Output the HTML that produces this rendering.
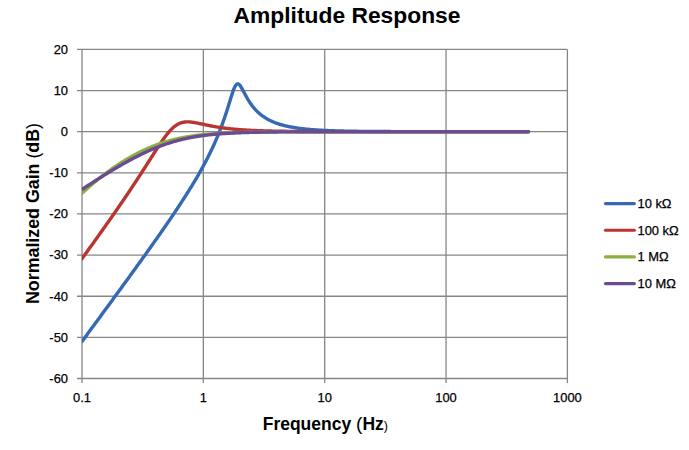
<!DOCTYPE html>
<html><head><meta charset="utf-8"><style>
html,body{margin:0;padding:0;background:#fff;width:689px;height:450px;overflow:hidden}
svg{display:block}
text{font-family:"Liberation Sans",sans-serif;fill:#000}
</style></head><body>
<svg width="689" height="450" viewBox="0 0 689 450">
<defs><clipPath id="pa"><rect x="82.00" y="0" width="1000.00" height="450"/></clipPath></defs>
<g stroke="#868686" stroke-width="1.3" fill="none">
<line x1="77" y1="49.40" x2="567.40" y2="49.40"/>
<line x1="77" y1="90.54" x2="567.40" y2="90.54"/>
<line x1="77" y1="131.68" x2="567.40" y2="131.68"/>
<line x1="77" y1="172.81" x2="567.40" y2="172.81"/>
<line x1="77" y1="213.95" x2="567.40" y2="213.95"/>
<line x1="77" y1="255.09" x2="567.40" y2="255.09"/>
<line x1="77" y1="296.23" x2="567.40" y2="296.23"/>
<line x1="77" y1="337.36" x2="567.40" y2="337.36"/>
<line x1="77" y1="378.50" x2="567.40" y2="378.50"/>
<line x1="82.00" y1="49.40" x2="82.00" y2="383"/>
<line x1="203.35" y1="49.40" x2="203.35" y2="383"/>
<line x1="324.70" y1="49.40" x2="324.70" y2="383"/>
<line x1="446.05" y1="49.40" x2="446.05" y2="383"/>
<line x1="567.40" y1="49.40" x2="567.40" y2="383"/>
</g>
<g font-size="12.9" stroke="#000" stroke-width="0.25">
<text x="68" y="53.70" text-anchor="end">20</text>
<text x="68" y="94.84" text-anchor="end">10</text>
<text x="68" y="135.98" text-anchor="end">0</text>
<text x="68" y="177.11" text-anchor="end">-10</text>
<text x="68" y="218.25" text-anchor="end">-20</text>
<text x="68" y="259.39" text-anchor="end">-30</text>
<text x="68" y="300.53" text-anchor="end">-40</text>
<text x="68" y="341.66" text-anchor="end">-50</text>
<text x="68" y="382.80" text-anchor="end">-60</text>
<text x="82.00" y="401.5" text-anchor="middle">0.1</text>
<text x="203.35" y="401.5" text-anchor="middle">1</text>
<text x="324.70" y="401.5" text-anchor="middle">10</text>
<text x="446.05" y="401.5" text-anchor="middle">100</text>
<text x="567.40" y="401.5" text-anchor="middle">1000</text>
</g>
<g clip-path="url(#pa)" fill="none" stroke-width="3.4" stroke-linejoin="round" stroke-linecap="round">
<path d="M82.00 341.47 L82.74 340.46 L83.49 339.44 L84.23 338.43 L84.98 337.42 L85.72 336.41 L86.47 335.40 L87.21 334.38 L87.95 333.37 L88.70 332.36 L89.44 331.35 L90.19 330.33 L90.93 329.32 L91.67 328.31 L92.42 327.29 L93.16 326.28 L93.91 325.27 L94.65 324.25 L95.40 323.24 L96.14 322.23 L96.88 321.21 L97.63 320.20 L98.37 319.18 L99.12 318.17 L99.86 317.16 L100.60 316.14 L101.35 315.13 L102.09 314.11 L102.84 313.10 L103.58 312.08 L104.33 311.07 L105.07 310.05 L105.81 309.03 L106.56 308.02 L107.30 307.00 L108.05 305.99 L108.79 304.97 L109.53 303.95 L110.28 302.94 L111.02 301.92 L111.77 300.90 L112.51 299.88 L113.25 298.87 L114.00 297.85 L114.74 296.83 L115.49 295.81 L116.23 294.79 L116.98 293.77 L117.72 292.75 L118.46 291.73 L119.21 290.71 L119.95 289.69 L120.70 288.67 L121.44 287.65 L122.19 286.63 L122.93 285.60 L123.67 284.58 L124.42 283.56 L125.16 282.54 L125.91 281.51 L126.65 280.49 L127.39 279.46 L128.14 278.44 L128.88 277.41 L129.63 276.39 L130.37 275.36 L131.12 274.34 L131.86 273.31 L132.60 272.28 L133.35 271.25 L134.09 270.22 L134.84 269.19 L135.58 268.16 L136.32 267.13 L137.07 266.10 L137.81 265.07 L138.56 264.04 L139.30 263.00 L140.05 261.97 L140.79 260.93 L141.53 259.90 L142.28 258.86 L143.02 257.83 L143.77 256.79 L144.51 255.75 L145.25 254.71 L146.00 253.67 L146.74 252.63 L147.49 251.58 L148.23 250.54 L148.97 249.50 L149.72 248.45 L150.46 247.40 L151.21 246.36 L151.95 245.31 L152.70 244.26 L153.44 243.21 L154.18 242.15 L154.93 241.10 L155.67 240.04 L156.42 238.99 L157.16 237.93 L157.91 236.87 L158.65 235.81 L159.39 234.75 L160.14 233.68 L160.88 232.62 L161.63 231.55 L162.37 230.48 L163.11 229.41 L163.86 228.34 L164.60 227.26 L165.35 226.19 L166.09 225.11 L166.83 224.03 L167.58 222.94 L168.32 221.86 L169.07 220.77 L169.81 219.68 L170.56 218.59 L171.30 217.49 L172.04 216.39 L172.79 215.29 L173.53 214.19 L174.28 213.08 L175.02 211.97 L175.76 210.86 L176.51 209.74 L177.25 208.62 L178.00 207.50 L178.74 206.37 L179.49 205.24 L180.23 204.11 L180.97 202.97 L181.72 201.83 L182.46 200.68 L183.21 199.53 L183.95 198.38 L184.69 197.22 L185.44 196.05 L186.18 194.88 L186.93 193.71 L187.67 192.52 L188.42 191.34 L189.16 190.14 L189.90 188.95 L190.65 187.74 L191.39 186.53 L192.14 185.31 L192.88 184.08 L193.62 182.85 L194.37 181.61 L195.11 180.36 L195.86 179.10 L196.60 177.84 L197.35 176.56 L198.09 175.28 L198.83 173.98 L199.58 172.68 L200.32 171.36 L201.07 170.03 L201.81 168.70 L202.56 167.35 L203.30 165.98 L204.04 164.61 L204.79 163.22 L205.53 161.81 L206.28 160.39 L207.02 158.95 L207.76 157.50 L208.51 156.03 L209.25 154.54 L210.00 153.03 L210.74 151.51 L211.49 149.96 L212.23 148.38 L212.97 146.79 L213.72 145.17 L214.46 143.52 L215.21 141.85 L215.95 140.14 L216.69 138.41 L217.44 136.65 L218.18 134.85 L218.93 133.01 L219.67 131.14 L220.41 129.23 L221.16 127.28 L221.90 125.29 L222.65 123.25 L223.39 121.17 L224.14 119.04 L224.88 116.86 L225.62 114.63 L226.37 112.36 L227.11 110.04 L227.86 107.68 L228.60 105.28 L229.35 102.86 L230.09 100.43 L230.83 98.02 L231.58 95.64 L232.32 93.35 L233.07 91.17 L233.81 89.18 L234.55 87.43 L235.30 85.97 L236.04 84.87 L236.79 84.17 L237.53 83.86 L238.28 83.95 L239.02 84.40 L239.76 85.14 L240.51 86.13 L241.25 87.29 L242.00 88.58 L242.74 89.94 L243.48 91.35 L244.23 92.77 L244.97 94.18 L245.72 95.56 L246.46 96.92 L247.21 98.23 L247.95 99.49 L248.69 100.71 L249.44 101.88 L250.18 103.00 L250.93 104.08 L251.67 105.11 L252.41 106.09 L253.16 107.03 L253.90 107.93 L254.65 108.79 L255.39 109.62 L256.13 110.41 L256.88 111.17 L257.62 111.89 L258.37 112.58 L259.11 113.25 L259.86 113.88 L260.60 114.50 L261.34 115.08 L262.09 115.65 L262.83 116.19 L263.58 116.71 L264.32 117.20 L265.07 117.68 L265.81 118.15 L266.55 118.59 L267.30 119.02 L268.04 119.43 L268.79 119.82 L269.53 120.21 L270.27 120.57 L271.02 120.93 L271.76 121.27 L272.51 121.60 L273.25 121.92 L274.00 122.22 L274.74 122.52 L275.48 122.80 L276.23 123.08 L276.97 123.34 L277.72 123.60 L278.46 123.85 L279.20 124.09 L279.95 124.32 L280.69 124.55 L281.44 124.76 L282.18 124.97 L282.93 125.18 L283.67 125.37 L284.41 125.56 L285.16 125.75 L285.90 125.92 L286.65 126.10 L287.39 126.26 L288.13 126.42 L288.88 126.58 L289.62 126.73 L290.37 126.88 L291.11 127.02 L291.86 127.16 L292.60 127.29 L293.34 127.42 L294.09 127.54 L294.83 127.66 L295.58 127.78 L296.32 127.90 L297.06 128.01 L297.81 128.11 L298.55 128.22 L299.30 128.32 L300.04 128.42 L300.78 128.51 L301.53 128.60 L302.27 128.69 L303.02 128.78 L303.76 128.86 L304.51 128.94 L305.25 129.02 L305.99 129.10 L306.74 129.17 L307.48 129.24 L308.23 129.31 L308.97 129.38 L309.72 129.45 L310.46 129.51 L311.20 129.57 L311.95 129.63 L312.69 129.69 L313.44 129.75 L314.18 129.80 L314.92 129.86 L315.67 129.91 L316.41 129.96 L317.16 130.01 L317.90 130.05 L318.64 130.10 L319.39 130.14 L320.13 130.19 L320.88 130.23 L321.62 130.27 L322.37 130.31 L323.11 130.35 L323.85 130.39 L324.60 130.42 L325.34 130.46 L326.09 130.49 L326.83 130.53 L327.57 130.56 L328.32 130.59 L329.06 130.62 L329.81 130.65 L330.55 130.68 L331.30 130.71 L332.04 130.74 L332.78 130.76 L333.53 130.79 L334.27 130.81 L335.02 130.84 L335.76 130.86 L336.50 130.88 L337.25 130.91 L337.99 130.93 L338.74 130.95 L339.48 130.97 L340.23 130.99 L340.97 131.01 L341.71 131.03 L342.46 131.04 L343.20 131.06 L343.95 131.08 L344.69 131.10 L345.44 131.11 L346.18 131.13 L346.92 131.14 L347.67 131.16 L348.41 131.17 L349.16 131.19 L349.90 131.20 L350.64 131.21 L351.39 131.23 L352.13 131.24 L352.88 131.25 L353.62 131.26 L354.37 131.28 L355.11 131.29 L355.85 131.30 L356.60 131.31 L357.34 131.32 L358.09 131.33 L358.83 131.34 L359.57 131.35 L360.32 131.36 L361.06 131.37 L361.81 131.37 L362.55 131.38 L363.30 131.39 L364.04 131.40 L364.78 131.41 L365.53 131.41 L366.27 131.42 L367.02 131.43 L367.76 131.43 L368.50 131.44 L369.25 131.45 L369.99 131.45 L370.74 131.46 L371.48 131.47 L372.23 131.47 L372.97 131.48 L373.71 131.48 L374.46 131.49 L375.20 131.49 L375.95 131.50 L376.69 131.50 L377.43 131.51 L378.18 131.51 L378.92 131.52 L379.67 131.52 L380.41 131.53 L381.15 131.53 L381.90 131.53 L382.64 131.54 L383.39 131.54 L384.13 131.55 L384.88 131.55 L385.62 131.55 L386.36 131.56 L387.11 131.56 L387.85 131.56 L388.60 131.57 L389.34 131.57 L390.09 131.57 L390.83 131.58 L391.57 131.58 L392.32 131.58 L393.06 131.58 L393.81 131.59 L394.55 131.59 L395.29 131.59 L396.04 131.59 L396.78 131.60 L397.53 131.60 L398.27 131.60 L399.01 131.60 L399.76 131.60 L400.50 131.61 L401.25 131.61 L401.99 131.61 L402.74 131.61 L403.48 131.61 L404.22 131.61 L404.97 131.62 L405.71 131.62 L406.46 131.62 L407.20 131.62 L407.94 131.62 L408.69 131.62 L409.43 131.63 L410.18 131.63 L410.92 131.63 L411.67 131.63 L412.41 131.63 L413.15 131.63 L413.90 131.63 L414.64 131.63 L415.39 131.64 L416.13 131.64 L416.88 131.64 L417.62 131.64 L418.36 131.64 L419.11 131.64 L419.85 131.64 L420.60 131.64 L421.34 131.64 L422.08 131.64 L422.83 131.65 L423.57 131.65 L424.32 131.65 L425.06 131.65 L425.81 131.65 L426.55 131.65 L427.29 131.65 L428.04 131.65 L428.78 131.65 L429.53 131.65 L430.27 131.65 L431.01 131.65 L431.76 131.65 L432.50 131.65 L433.25 131.66 L433.99 131.66 L434.74 131.66 L435.48 131.66 L436.22 131.66 L436.97 131.66 L437.71 131.66 L438.46 131.66 L439.20 131.66 L439.94 131.66 L440.69 131.66 L441.43 131.66 L442.18 131.66 L442.92 131.66 L443.67 131.66 L444.41 131.66 L445.15 131.66 L445.90 131.66 L446.64 131.66 L447.39 131.66 L448.13 131.66 L448.87 131.66 L449.62 131.66 L450.36 131.66 L451.11 131.66 L451.85 131.67 L452.59 131.67 L453.34 131.67 L454.08 131.67 L454.83 131.67 L455.57 131.67 L456.32 131.67 L457.06 131.67 L457.80 131.67 L458.55 131.67 L459.29 131.67 L460.04 131.67 L460.78 131.67 L461.53 131.67 L462.27 131.67 L463.01 131.67 L463.76 131.67 L464.50 131.67 L465.25 131.67 L465.99 131.67 L466.73 131.67 L467.48 131.67 L468.22 131.67 L468.97 131.67 L469.71 131.67 L470.46 131.67 L471.20 131.67 L471.94 131.67 L472.69 131.67 L473.43 131.67 L474.18 131.67 L474.92 131.67 L475.66 131.67 L476.41 131.67 L477.15 131.67 L477.90 131.67 L478.64 131.67 L479.38 131.67 L480.13 131.67 L480.87 131.67 L481.62 131.67 L482.36 131.67 L483.11 131.67 L483.85 131.67 L484.59 131.67 L485.34 131.67 L486.08 131.67 L486.83 131.67 L487.57 131.67 L488.31 131.67 L489.06 131.67 L489.80 131.67 L490.55 131.67 L491.29 131.67 L492.04 131.67 L492.78 131.67 L493.52 131.67 L494.27 131.67 L495.01 131.67 L495.76 131.67 L496.50 131.67 L497.24 131.67 L497.99 131.67 L498.73 131.67 L499.48 131.67 L500.22 131.67 L500.97 131.67 L501.71 131.67 L502.45 131.67 L503.20 131.67 L503.94 131.67 L504.69 131.67 L505.43 131.67 L506.18 131.67 L506.92 131.67 L507.66 131.67 L508.41 131.67 L509.15 131.67 L509.90 131.67 L510.64 131.67 L511.38 131.67 L512.13 131.67 L512.87 131.67 L513.62 131.67 L514.36 131.67 L515.11 131.67 L515.85 131.67 L516.59 131.67 L517.34 131.67 L518.08 131.67 L518.83 131.67 L519.57 131.67 L520.31 131.67 L521.06 131.67 L521.80 131.67 L522.55 131.67 L523.29 131.67 L524.04 131.67 L524.78 131.67 L525.52 131.67 L526.27 131.67 L527.01 131.67 L527.76 131.67 L528.50 131.67" stroke="#3569B4"/>
<path d="M82.00 258.64 L82.74 257.61 L83.49 256.58 L84.23 255.56 L84.98 254.53 L85.72 253.50 L86.47 252.47 L87.21 251.43 L87.95 250.40 L88.70 249.37 L89.44 248.34 L90.19 247.30 L90.93 246.27 L91.67 245.23 L92.42 244.20 L93.16 243.16 L93.91 242.13 L94.65 241.09 L95.40 240.05 L96.14 239.01 L96.88 237.97 L97.63 236.93 L98.37 235.88 L99.12 234.84 L99.86 233.80 L100.60 232.75 L101.35 231.71 L102.09 230.66 L102.84 229.61 L103.58 228.56 L104.33 227.51 L105.07 226.46 L105.81 225.40 L106.56 224.35 L107.30 223.30 L108.05 222.24 L108.79 221.18 L109.53 220.12 L110.28 219.06 L111.02 218.00 L111.77 216.93 L112.51 215.87 L113.25 214.80 L114.00 213.73 L114.74 212.66 L115.49 211.59 L116.23 210.52 L116.98 209.45 L117.72 208.37 L118.46 207.29 L119.21 206.21 L119.95 205.13 L120.70 204.04 L121.44 202.96 L122.19 201.87 L122.93 200.78 L123.67 199.69 L124.42 198.59 L125.16 197.50 L125.91 196.40 L126.65 195.30 L127.39 194.19 L128.14 193.09 L128.88 191.98 L129.63 190.87 L130.37 189.76 L131.12 188.64 L131.86 187.52 L132.60 186.40 L133.35 185.28 L134.09 184.15 L134.84 183.03 L135.58 181.90 L136.32 180.76 L137.07 179.63 L137.81 178.49 L138.56 177.35 L139.30 176.20 L140.05 175.06 L140.79 173.91 L141.53 172.76 L142.28 171.60 L143.02 170.45 L143.77 169.29 L144.51 168.13 L145.25 166.97 L146.00 165.80 L146.74 164.64 L147.49 163.47 L148.23 162.31 L148.97 161.14 L149.72 159.97 L150.46 158.80 L151.21 157.63 L151.95 156.47 L152.70 155.30 L153.44 154.14 L154.18 152.97 L154.93 151.82 L155.67 150.66 L156.42 149.51 L157.16 148.37 L157.91 147.23 L158.65 146.10 L159.39 144.98 L160.14 143.86 L160.88 142.76 L161.63 141.67 L162.37 140.60 L163.11 139.54 L163.86 138.50 L164.60 137.47 L165.35 136.47 L166.09 135.49 L166.83 134.53 L167.58 133.60 L168.32 132.70 L169.07 131.83 L169.81 130.98 L170.56 130.17 L171.30 129.40 L172.04 128.66 L172.79 127.96 L173.53 127.30 L174.28 126.67 L175.02 126.09 L175.76 125.54 L176.51 125.04 L177.25 124.58 L178.00 124.16 L178.74 123.77 L179.49 123.43 L180.23 123.13 L180.97 122.86 L181.72 122.63 L182.46 122.43 L183.21 122.26 L183.95 122.13 L184.69 122.03 L185.44 121.95 L186.18 121.90 L186.93 121.87 L187.67 121.87 L188.42 121.88 L189.16 121.92 L189.90 121.97 L190.65 122.03 L191.39 122.12 L192.14 122.21 L192.88 122.31 L193.62 122.43 L194.37 122.55 L195.11 122.68 L195.86 122.81 L196.60 122.95 L197.35 123.10 L198.09 123.25 L198.83 123.40 L199.58 123.56 L200.32 123.72 L201.07 123.87 L201.81 124.03 L202.56 124.19 L203.30 124.35 L204.04 124.51 L204.79 124.67 L205.53 124.83 L206.28 124.98 L207.02 125.14 L207.76 125.29 L208.51 125.44 L209.25 125.59 L210.00 125.73 L210.74 125.88 L211.49 126.02 L212.23 126.16 L212.97 126.30 L213.72 126.43 L214.46 126.56 L215.21 126.69 L215.95 126.82 L216.69 126.94 L217.44 127.06 L218.18 127.18 L218.93 127.30 L219.67 127.41 L220.41 127.52 L221.16 127.63 L221.90 127.74 L222.65 127.84 L223.39 127.94 L224.14 128.04 L224.88 128.14 L225.62 128.23 L226.37 128.32 L227.11 128.41 L227.86 128.50 L228.60 128.59 L229.35 128.67 L230.09 128.75 L230.83 128.83 L231.58 128.91 L232.32 128.98 L233.07 129.05 L233.81 129.13 L234.55 129.19 L235.30 129.26 L236.04 129.33 L236.79 129.39 L237.53 129.45 L238.28 129.51 L239.02 129.57 L239.76 129.63 L240.51 129.69 L241.25 129.74 L242.00 129.79 L242.74 129.85 L243.48 129.90 L244.23 129.94 L244.97 129.99 L245.72 130.04 L246.46 130.08 L247.21 130.13 L247.95 130.17 L248.69 130.21 L249.44 130.25 L250.18 130.29 L250.93 130.33 L251.67 130.37 L252.41 130.40 L253.16 130.44 L253.90 130.47 L254.65 130.50 L255.39 130.54 L256.13 130.57 L256.88 130.60 L257.62 130.63 L258.37 130.66 L259.11 130.69 L259.86 130.71 L260.60 130.74 L261.34 130.77 L262.09 130.79 L262.83 130.82 L263.58 130.84 L264.32 130.86 L265.07 130.88 L265.81 130.91 L266.55 130.93 L267.30 130.95 L268.04 130.97 L268.79 130.99 L269.53 131.01 L270.27 131.03 L271.02 131.04 L271.76 131.06 L272.51 131.08 L273.25 131.09 L274.00 131.11 L274.74 131.13 L275.48 131.14 L276.23 131.16 L276.97 131.17 L277.72 131.18 L278.46 131.20 L279.20 131.21 L279.95 131.22 L280.69 131.24 L281.44 131.25 L282.18 131.26 L282.93 131.27 L283.67 131.28 L284.41 131.29 L285.16 131.31 L285.90 131.32 L286.65 131.33 L287.39 131.34 L288.13 131.34 L288.88 131.35 L289.62 131.36 L290.37 131.37 L291.11 131.38 L291.86 131.39 L292.60 131.40 L293.34 131.40 L294.09 131.41 L294.83 131.42 L295.58 131.43 L296.32 131.43 L297.06 131.44 L297.81 131.45 L298.55 131.45 L299.30 131.46 L300.04 131.46 L300.78 131.47 L301.53 131.48 L302.27 131.48 L303.02 131.49 L303.76 131.49 L304.51 131.50 L305.25 131.50 L305.99 131.51 L306.74 131.51 L307.48 131.52 L308.23 131.52 L308.97 131.53 L309.72 131.53 L310.46 131.53 L311.20 131.54 L311.95 131.54 L312.69 131.54 L313.44 131.55 L314.18 131.55 L314.92 131.56 L315.67 131.56 L316.41 131.56 L317.16 131.57 L317.90 131.57 L318.64 131.57 L319.39 131.57 L320.13 131.58 L320.88 131.58 L321.62 131.58 L322.37 131.58 L323.11 131.59 L323.85 131.59 L324.60 131.59 L325.34 131.59 L326.09 131.60 L326.83 131.60 L327.57 131.60 L328.32 131.60 L329.06 131.61 L329.81 131.61 L330.55 131.61 L331.30 131.61 L332.04 131.61 L332.78 131.61 L333.53 131.62 L334.27 131.62 L335.02 131.62 L335.76 131.62 L336.50 131.62 L337.25 131.62 L337.99 131.63 L338.74 131.63 L339.48 131.63 L340.23 131.63 L340.97 131.63 L341.71 131.63 L342.46 131.63 L343.20 131.63 L343.95 131.64 L344.69 131.64 L345.44 131.64 L346.18 131.64 L346.92 131.64 L347.67 131.64 L348.41 131.64 L349.16 131.64 L349.90 131.64 L350.64 131.64 L351.39 131.65 L352.13 131.65 L352.88 131.65 L353.62 131.65 L354.37 131.65 L355.11 131.65 L355.85 131.65 L356.60 131.65 L357.34 131.65 L358.09 131.65 L358.83 131.65 L359.57 131.65 L360.32 131.65 L361.06 131.65 L361.81 131.65 L362.55 131.66 L363.30 131.66 L364.04 131.66 L364.78 131.66 L365.53 131.66 L366.27 131.66 L367.02 131.66 L367.76 131.66 L368.50 131.66 L369.25 131.66 L369.99 131.66 L370.74 131.66 L371.48 131.66 L372.23 131.66 L372.97 131.66 L373.71 131.66 L374.46 131.66 L375.20 131.66 L375.95 131.66 L376.69 131.66 L377.43 131.66 L378.18 131.66 L378.92 131.66 L379.67 131.66 L380.41 131.67 L381.15 131.67 L381.90 131.67 L382.64 131.67 L383.39 131.67 L384.13 131.67 L384.88 131.67 L385.62 131.67 L386.36 131.67 L387.11 131.67 L387.85 131.67 L388.60 131.67 L389.34 131.67 L390.09 131.67 L390.83 131.67 L391.57 131.67 L392.32 131.67 L393.06 131.67 L393.81 131.67 L394.55 131.67 L395.29 131.67 L396.04 131.67 L396.78 131.67 L397.53 131.67 L398.27 131.67 L399.01 131.67 L399.76 131.67 L400.50 131.67 L401.25 131.67 L401.99 131.67 L402.74 131.67 L403.48 131.67 L404.22 131.67 L404.97 131.67 L405.71 131.67 L406.46 131.67 L407.20 131.67 L407.94 131.67 L408.69 131.67 L409.43 131.67 L410.18 131.67 L410.92 131.67 L411.67 131.67 L412.41 131.67 L413.15 131.67 L413.90 131.67 L414.64 131.67 L415.39 131.67 L416.13 131.67 L416.88 131.67 L417.62 131.67 L418.36 131.67 L419.11 131.67 L419.85 131.67 L420.60 131.67 L421.34 131.67 L422.08 131.67 L422.83 131.67 L423.57 131.67 L424.32 131.67 L425.06 131.67 L425.81 131.67 L426.55 131.67 L427.29 131.67 L428.04 131.67 L428.78 131.67 L429.53 131.67 L430.27 131.67 L431.01 131.67 L431.76 131.67 L432.50 131.67 L433.25 131.67 L433.99 131.67 L434.74 131.67 L435.48 131.67 L436.22 131.67 L436.97 131.67 L437.71 131.67 L438.46 131.67 L439.20 131.67 L439.94 131.67 L440.69 131.67 L441.43 131.67 L442.18 131.67 L442.92 131.67 L443.67 131.67 L444.41 131.67 L445.15 131.67 L445.90 131.67 L446.64 131.67 L447.39 131.67 L448.13 131.67 L448.87 131.67 L449.62 131.67 L450.36 131.67 L451.11 131.67 L451.85 131.67 L452.59 131.67 L453.34 131.67 L454.08 131.67 L454.83 131.67 L455.57 131.67 L456.32 131.67 L457.06 131.67 L457.80 131.67 L458.55 131.67 L459.29 131.67 L460.04 131.67 L460.78 131.67 L461.53 131.67 L462.27 131.67 L463.01 131.67 L463.76 131.67 L464.50 131.67 L465.25 131.67 L465.99 131.67 L466.73 131.67 L467.48 131.67 L468.22 131.67 L468.97 131.67 L469.71 131.67 L470.46 131.67 L471.20 131.67 L471.94 131.67 L472.69 131.67 L473.43 131.67 L474.18 131.67 L474.92 131.67 L475.66 131.67 L476.41 131.67 L477.15 131.67 L477.90 131.67 L478.64 131.67 L479.38 131.67 L480.13 131.67 L480.87 131.67 L481.62 131.67 L482.36 131.67 L483.11 131.67 L483.85 131.67 L484.59 131.67 L485.34 131.67 L486.08 131.67 L486.83 131.67 L487.57 131.67 L488.31 131.67 L489.06 131.67 L489.80 131.67 L490.55 131.67 L491.29 131.67 L492.04 131.67 L492.78 131.67 L493.52 131.67 L494.27 131.67 L495.01 131.67 L495.76 131.67 L496.50 131.67 L497.24 131.67 L497.99 131.67 L498.73 131.67 L499.48 131.67 L500.22 131.67 L500.97 131.67 L501.71 131.67 L502.45 131.67 L503.20 131.67 L503.94 131.67 L504.69 131.67 L505.43 131.67 L506.18 131.67 L506.92 131.67 L507.66 131.67 L508.41 131.67 L509.15 131.67 L509.90 131.67 L510.64 131.67 L511.38 131.67 L512.13 131.67 L512.87 131.67 L513.62 131.67 L514.36 131.67 L515.11 131.67 L515.85 131.67 L516.59 131.67 L517.34 131.67 L518.08 131.67 L518.83 131.67 L519.57 131.67 L520.31 131.67 L521.06 131.67 L521.80 131.67 L522.55 131.67 L523.29 131.67 L524.04 131.67 L524.78 131.67 L525.52 131.67 L526.27 131.67 L527.01 131.67 L527.76 131.67 L528.50 131.67" stroke="#BA3431"/>
<path d="M82.00 193.28 L82.74 192.59 L83.49 191.90 L84.23 191.22 L84.98 190.54 L85.72 189.87 L86.47 189.20 L87.21 188.54 L87.95 187.88 L88.70 187.22 L89.44 186.57 L90.19 185.93 L90.93 185.28 L91.67 184.64 L92.42 184.01 L93.16 183.38 L93.91 182.75 L94.65 182.13 L95.40 181.51 L96.14 180.90 L96.88 180.29 L97.63 179.69 L98.37 179.09 L99.12 178.49 L99.86 177.90 L100.60 177.31 L101.35 176.73 L102.09 176.14 L102.84 175.57 L103.58 175.00 L104.33 174.43 L105.07 173.87 L105.81 173.31 L106.56 172.75 L107.30 172.20 L108.05 171.65 L108.79 171.11 L109.53 170.57 L110.28 170.04 L111.02 169.51 L111.77 168.98 L112.51 168.46 L113.25 167.94 L114.00 167.42 L114.74 166.91 L115.49 166.41 L116.23 165.90 L116.98 165.41 L117.72 164.91 L118.46 164.42 L119.21 163.94 L119.95 163.45 L120.70 162.98 L121.44 162.50 L122.19 162.03 L122.93 161.57 L123.67 161.11 L124.42 160.65 L125.16 160.20 L125.91 159.75 L126.65 159.30 L127.39 158.86 L128.14 158.42 L128.88 157.99 L129.63 157.56 L130.37 157.14 L131.12 156.72 L131.86 156.30 L132.60 155.89 L133.35 155.48 L134.09 155.08 L134.84 154.68 L135.58 154.28 L136.32 153.89 L137.07 153.51 L137.81 153.12 L138.56 152.75 L139.30 152.37 L140.05 152.00 L140.79 151.64 L141.53 151.27 L142.28 150.92 L143.02 150.56 L143.77 150.22 L144.51 149.87 L145.25 149.53 L146.00 149.20 L146.74 148.86 L147.49 148.54 L148.23 148.21 L148.97 147.89 L149.72 147.58 L150.46 147.27 L151.21 146.96 L151.95 146.66 L152.70 146.36 L153.44 146.07 L154.18 145.78 L154.93 145.49 L155.67 145.21 L156.42 144.93 L157.16 144.66 L157.91 144.39 L158.65 144.13 L159.39 143.87 L160.14 143.61 L160.88 143.36 L161.63 143.11 L162.37 142.86 L163.11 142.62 L163.86 142.39 L164.60 142.16 L165.35 141.93 L166.09 141.70 L166.83 141.48 L167.58 141.26 L168.32 141.05 L169.07 140.84 L169.81 140.63 L170.56 140.43 L171.30 140.23 L172.04 140.04 L172.79 139.85 L173.53 139.66 L174.28 139.48 L175.02 139.30 L175.76 139.12 L176.51 138.95 L177.25 138.78 L178.00 138.61 L178.74 138.45 L179.49 138.28 L180.23 138.13 L180.97 137.97 L181.72 137.82 L182.46 137.68 L183.21 137.53 L183.95 137.39 L184.69 137.25 L185.44 137.11 L186.18 136.98 L186.93 136.85 L187.67 136.72 L188.42 136.60 L189.16 136.48 L189.90 136.36 L190.65 136.24 L191.39 136.13 L192.14 136.02 L192.88 135.91 L193.62 135.80 L194.37 135.70 L195.11 135.60 L195.86 135.50 L196.60 135.40 L197.35 135.31 L198.09 135.21 L198.83 135.12 L199.58 135.03 L200.32 134.95 L201.07 134.86 L201.81 134.78 L202.56 134.70 L203.30 134.62 L204.04 134.55 L204.79 134.47 L205.53 134.40 L206.28 134.33 L207.02 134.26 L207.76 134.19 L208.51 134.13 L209.25 134.06 L210.00 134.00 L210.74 133.94 L211.49 133.88 L212.23 133.82 L212.97 133.76 L213.72 133.71 L214.46 133.66 L215.21 133.60 L215.95 133.55 L216.69 133.50 L217.44 133.45 L218.18 133.41 L218.93 133.36 L219.67 133.31 L220.41 133.27 L221.16 133.23 L221.90 133.19 L222.65 133.15 L223.39 133.11 L224.14 133.07 L224.88 133.03 L225.62 132.99 L226.37 132.96 L227.11 132.92 L227.86 132.89 L228.60 132.86 L229.35 132.83 L230.09 132.79 L230.83 132.76 L231.58 132.73 L232.32 132.71 L233.07 132.68 L233.81 132.65 L234.55 132.62 L235.30 132.60 L236.04 132.57 L236.79 132.55 L237.53 132.52 L238.28 132.50 L239.02 132.48 L239.76 132.46 L240.51 132.44 L241.25 132.41 L242.00 132.39 L242.74 132.37 L243.48 132.36 L244.23 132.34 L244.97 132.32 L245.72 132.30 L246.46 132.28 L247.21 132.27 L247.95 132.25 L248.69 132.24 L249.44 132.22 L250.18 132.21 L250.93 132.19 L251.67 132.18 L252.41 132.16 L253.16 132.15 L253.90 132.14 L254.65 132.12 L255.39 132.11 L256.13 132.10 L256.88 132.09 L257.62 132.08 L258.37 132.06 L259.11 132.05 L259.86 132.04 L260.60 132.03 L261.34 132.02 L262.09 132.01 L262.83 132.00 L263.58 132.00 L264.32 131.99 L265.07 131.98 L265.81 131.97 L266.55 131.96 L267.30 131.95 L268.04 131.95 L268.79 131.94 L269.53 131.93 L270.27 131.92 L271.02 131.92 L271.76 131.91 L272.51 131.90 L273.25 131.90 L274.00 131.89 L274.74 131.89 L275.48 131.88 L276.23 131.87 L276.97 131.87 L277.72 131.86 L278.46 131.86 L279.20 131.85 L279.95 131.85 L280.69 131.84 L281.44 131.84 L282.18 131.83 L282.93 131.83 L283.67 131.83 L284.41 131.82 L285.16 131.82 L285.90 131.81 L286.65 131.81 L287.39 131.81 L288.13 131.80 L288.88 131.80 L289.62 131.79 L290.37 131.79 L291.11 131.79 L291.86 131.79 L292.60 131.78 L293.34 131.78 L294.09 131.78 L294.83 131.77 L295.58 131.77 L296.32 131.77 L297.06 131.77 L297.81 131.76 L298.55 131.76 L299.30 131.76 L300.04 131.76 L300.78 131.75 L301.53 131.75 L302.27 131.75 L303.02 131.75 L303.76 131.75 L304.51 131.74 L305.25 131.74 L305.99 131.74 L306.74 131.74 L307.48 131.74 L308.23 131.73 L308.97 131.73 L309.72 131.73 L310.46 131.73 L311.20 131.73 L311.95 131.73 L312.69 131.73 L313.44 131.72 L314.18 131.72 L314.92 131.72 L315.67 131.72 L316.41 131.72 L317.16 131.72 L317.90 131.72 L318.64 131.71 L319.39 131.71 L320.13 131.71 L320.88 131.71 L321.62 131.71 L322.37 131.71 L323.11 131.71 L323.85 131.71 L324.60 131.71 L325.34 131.71 L326.09 131.71 L326.83 131.70 L327.57 131.70 L328.32 131.70 L329.06 131.70 L329.81 131.70 L330.55 131.70 L331.30 131.70 L332.04 131.70 L332.78 131.70 L333.53 131.70 L334.27 131.70 L335.02 131.70 L335.76 131.70 L336.50 131.70 L337.25 131.69 L337.99 131.69 L338.74 131.69 L339.48 131.69 L340.23 131.69 L340.97 131.69 L341.71 131.69 L342.46 131.69 L343.20 131.69 L343.95 131.69 L344.69 131.69 L345.44 131.69 L346.18 131.69 L346.92 131.69 L347.67 131.69 L348.41 131.69 L349.16 131.69 L349.90 131.69 L350.64 131.69 L351.39 131.69 L352.13 131.69 L352.88 131.69 L353.62 131.69 L354.37 131.69 L355.11 131.69 L355.85 131.68 L356.60 131.68 L357.34 131.68 L358.09 131.68 L358.83 131.68 L359.57 131.68 L360.32 131.68 L361.06 131.68 L361.81 131.68 L362.55 131.68 L363.30 131.68 L364.04 131.68 L364.78 131.68 L365.53 131.68 L366.27 131.68 L367.02 131.68 L367.76 131.68 L368.50 131.68 L369.25 131.68 L369.99 131.68 L370.74 131.68 L371.48 131.68 L372.23 131.68 L372.97 131.68 L373.71 131.68 L374.46 131.68 L375.20 131.68 L375.95 131.68 L376.69 131.68 L377.43 131.68 L378.18 131.68 L378.92 131.68 L379.67 131.68 L380.41 131.68 L381.15 131.68 L381.90 131.68 L382.64 131.68 L383.39 131.68 L384.13 131.68 L384.88 131.68 L385.62 131.68 L386.36 131.68 L387.11 131.68 L387.85 131.68 L388.60 131.68 L389.34 131.68 L390.09 131.68 L390.83 131.68 L391.57 131.68 L392.32 131.68 L393.06 131.68 L393.81 131.68 L394.55 131.68 L395.29 131.68 L396.04 131.68 L396.78 131.68 L397.53 131.68 L398.27 131.68 L399.01 131.68 L399.76 131.68 L400.50 131.68 L401.25 131.68 L401.99 131.68 L402.74 131.68 L403.48 131.68 L404.22 131.68 L404.97 131.68 L405.71 131.68 L406.46 131.68 L407.20 131.68 L407.94 131.68 L408.69 131.68 L409.43 131.68 L410.18 131.68 L410.92 131.68 L411.67 131.68 L412.41 131.68 L413.15 131.68 L413.90 131.68 L414.64 131.68 L415.39 131.68 L416.13 131.68 L416.88 131.68 L417.62 131.68 L418.36 131.68 L419.11 131.68 L419.85 131.68 L420.60 131.68 L421.34 131.68 L422.08 131.68 L422.83 131.68 L423.57 131.68 L424.32 131.68 L425.06 131.68 L425.81 131.68 L426.55 131.68 L427.29 131.68 L428.04 131.68 L428.78 131.68 L429.53 131.68 L430.27 131.68 L431.01 131.68 L431.76 131.68 L432.50 131.68 L433.25 131.68 L433.99 131.68 L434.74 131.68 L435.48 131.68 L436.22 131.68 L436.97 131.68 L437.71 131.68 L438.46 131.68 L439.20 131.68 L439.94 131.68 L440.69 131.68 L441.43 131.68 L442.18 131.68 L442.92 131.68 L443.67 131.68 L444.41 131.68 L445.15 131.68 L445.90 131.68 L446.64 131.68 L447.39 131.68 L448.13 131.68 L448.87 131.68 L449.62 131.68 L450.36 131.68 L451.11 131.68 L451.85 131.68 L452.59 131.68 L453.34 131.68 L454.08 131.68 L454.83 131.68 L455.57 131.68 L456.32 131.68 L457.06 131.68 L457.80 131.68 L458.55 131.68 L459.29 131.68 L460.04 131.68 L460.78 131.68 L461.53 131.68 L462.27 131.68 L463.01 131.68 L463.76 131.68 L464.50 131.68 L465.25 131.68 L465.99 131.68 L466.73 131.68 L467.48 131.68 L468.22 131.68 L468.97 131.68 L469.71 131.68 L470.46 131.68 L471.20 131.68 L471.94 131.68 L472.69 131.68 L473.43 131.68 L474.18 131.68 L474.92 131.68 L475.66 131.68 L476.41 131.68 L477.15 131.68 L477.90 131.68 L478.64 131.68 L479.38 131.68 L480.13 131.68 L480.87 131.68 L481.62 131.68 L482.36 131.68 L483.11 131.68 L483.85 131.68 L484.59 131.68 L485.34 131.68 L486.08 131.68 L486.83 131.68 L487.57 131.68 L488.31 131.68 L489.06 131.68 L489.80 131.68 L490.55 131.68 L491.29 131.68 L492.04 131.68 L492.78 131.68 L493.52 131.68 L494.27 131.68 L495.01 131.68 L495.76 131.68 L496.50 131.68 L497.24 131.68 L497.99 131.68 L498.73 131.68 L499.48 131.68 L500.22 131.68 L500.97 131.68 L501.71 131.68 L502.45 131.68 L503.20 131.68 L503.94 131.68 L504.69 131.68 L505.43 131.68 L506.18 131.68 L506.92 131.68 L507.66 131.68 L508.41 131.68 L509.15 131.68 L509.90 131.68 L510.64 131.68 L511.38 131.68 L512.13 131.68 L512.87 131.68 L513.62 131.68 L514.36 131.68 L515.11 131.68 L515.85 131.68 L516.59 131.68 L517.34 131.68 L518.08 131.68 L518.83 131.68 L519.57 131.68 L520.31 131.68 L521.06 131.68 L521.80 131.68 L522.55 131.68 L523.29 131.68 L524.04 131.68 L524.78 131.68 L525.52 131.68 L526.27 131.68 L527.01 131.68 L527.76 131.68 L528.50 131.68" stroke="#8CB040"/>
<path d="M82.00 189.41 L82.74 188.92 L83.49 188.43 L84.23 187.95 L84.98 187.46 L85.72 186.98 L86.47 186.50 L87.21 186.01 L87.95 185.53 L88.70 185.05 L89.44 184.57 L90.19 184.09 L90.93 183.61 L91.67 183.13 L92.42 182.65 L93.16 182.18 L93.91 181.70 L94.65 181.23 L95.40 180.75 L96.14 180.28 L96.88 179.81 L97.63 179.33 L98.37 178.86 L99.12 178.40 L99.86 177.93 L100.60 177.46 L101.35 176.99 L102.09 176.53 L102.84 176.06 L103.58 175.60 L104.33 175.14 L105.07 174.68 L105.81 174.22 L106.56 173.76 L107.30 173.30 L108.05 172.85 L108.79 172.39 L109.53 171.94 L110.28 171.49 L111.02 171.04 L111.77 170.59 L112.51 170.14 L113.25 169.70 L114.00 169.25 L114.74 168.81 L115.49 168.37 L116.23 167.93 L116.98 167.49 L117.72 167.05 L118.46 166.62 L119.21 166.19 L119.95 165.75 L120.70 165.33 L121.44 164.90 L122.19 164.47 L122.93 164.05 L123.67 163.63 L124.42 163.21 L125.16 162.79 L125.91 162.37 L126.65 161.96 L127.39 161.55 L128.14 161.14 L128.88 160.73 L129.63 160.33 L130.37 159.93 L131.12 159.53 L131.86 159.13 L132.60 158.73 L133.35 158.34 L134.09 157.95 L134.84 157.56 L135.58 157.18 L136.32 156.80 L137.07 156.42 L137.81 156.04 L138.56 155.67 L139.30 155.29 L140.05 154.92 L140.79 154.56 L141.53 154.20 L142.28 153.84 L143.02 153.48 L143.77 153.12 L144.51 152.77 L145.25 152.42 L146.00 152.08 L146.74 151.74 L147.49 151.40 L148.23 151.06 L148.97 150.73 L149.72 150.40 L150.46 150.07 L151.21 149.75 L151.95 149.43 L152.70 149.12 L153.44 148.80 L154.18 148.49 L154.93 148.19 L155.67 147.88 L156.42 147.58 L157.16 147.29 L157.91 147.00 L158.65 146.71 L159.39 146.42 L160.14 146.14 L160.88 145.86 L161.63 145.59 L162.37 145.32 L163.11 145.05 L163.86 144.78 L164.60 144.52 L165.35 144.27 L166.09 144.01 L166.83 143.76 L167.58 143.52 L168.32 143.27 L169.07 143.03 L169.81 142.80 L170.56 142.57 L171.30 142.34 L172.04 142.11 L172.79 141.89 L173.53 141.67 L174.28 141.46 L175.02 141.25 L175.76 141.04 L176.51 140.84 L177.25 140.64 L178.00 140.44 L178.74 140.24 L179.49 140.05 L180.23 139.87 L180.97 139.68 L181.72 139.50 L182.46 139.32 L183.21 139.15 L183.95 138.98 L184.69 138.81 L185.44 138.65 L186.18 138.49 L186.93 138.33 L187.67 138.17 L188.42 138.02 L189.16 137.87 L189.90 137.72 L190.65 137.58 L191.39 137.44 L192.14 137.30 L192.88 137.17 L193.62 137.04 L194.37 136.91 L195.11 136.78 L195.86 136.65 L196.60 136.53 L197.35 136.41 L198.09 136.30 L198.83 136.18 L199.58 136.07 L200.32 135.96 L201.07 135.86 L201.81 135.75 L202.56 135.65 L203.30 135.55 L204.04 135.45 L204.79 135.36 L205.53 135.27 L206.28 135.18 L207.02 135.09 L207.76 135.00 L208.51 134.92 L209.25 134.83 L210.00 134.75 L210.74 134.67 L211.49 134.60 L212.23 134.52 L212.97 134.45 L213.72 134.38 L214.46 134.31 L215.21 134.24 L215.95 134.17 L216.69 134.11 L217.44 134.04 L218.18 133.98 L218.93 133.92 L219.67 133.86 L220.41 133.80 L221.16 133.75 L221.90 133.69 L222.65 133.64 L223.39 133.59 L224.14 133.54 L224.88 133.49 L225.62 133.44 L226.37 133.39 L227.11 133.35 L227.86 133.30 L228.60 133.26 L229.35 133.22 L230.09 133.18 L230.83 133.14 L231.58 133.10 L232.32 133.06 L233.07 133.02 L233.81 132.99 L234.55 132.95 L235.30 132.92 L236.04 132.88 L236.79 132.85 L237.53 132.82 L238.28 132.79 L239.02 132.76 L239.76 132.73 L240.51 132.70 L241.25 132.67 L242.00 132.65 L242.74 132.62 L243.48 132.59 L244.23 132.57 L244.97 132.54 L245.72 132.52 L246.46 132.50 L247.21 132.48 L247.95 132.45 L248.69 132.43 L249.44 132.41 L250.18 132.39 L250.93 132.37 L251.67 132.35 L252.41 132.33 L253.16 132.32 L253.90 132.30 L254.65 132.28 L255.39 132.26 L256.13 132.25 L256.88 132.23 L257.62 132.22 L258.37 132.20 L259.11 132.19 L259.86 132.17 L260.60 132.16 L261.34 132.15 L262.09 132.13 L262.83 132.12 L263.58 132.11 L264.32 132.10 L265.07 132.09 L265.81 132.07 L266.55 132.06 L267.30 132.05 L268.04 132.04 L268.79 132.03 L269.53 132.02 L270.27 132.01 L271.02 132.00 L271.76 131.99 L272.51 131.99 L273.25 131.98 L274.00 131.97 L274.74 131.96 L275.48 131.95 L276.23 131.94 L276.97 131.94 L277.72 131.93 L278.46 131.92 L279.20 131.92 L279.95 131.91 L280.69 131.90 L281.44 131.90 L282.18 131.89 L282.93 131.88 L283.67 131.88 L284.41 131.87 L285.16 131.87 L285.90 131.86 L286.65 131.86 L287.39 131.85 L288.13 131.85 L288.88 131.84 L289.62 131.84 L290.37 131.83 L291.11 131.83 L291.86 131.82 L292.60 131.82 L293.34 131.82 L294.09 131.81 L294.83 131.81 L295.58 131.81 L296.32 131.80 L297.06 131.80 L297.81 131.79 L298.55 131.79 L299.30 131.79 L300.04 131.78 L300.78 131.78 L301.53 131.78 L302.27 131.78 L303.02 131.77 L303.76 131.77 L304.51 131.77 L305.25 131.77 L305.99 131.76 L306.74 131.76 L307.48 131.76 L308.23 131.76 L308.97 131.75 L309.72 131.75 L310.46 131.75 L311.20 131.75 L311.95 131.74 L312.69 131.74 L313.44 131.74 L314.18 131.74 L314.92 131.74 L315.67 131.74 L316.41 131.73 L317.16 131.73 L317.90 131.73 L318.64 131.73 L319.39 131.73 L320.13 131.73 L320.88 131.72 L321.62 131.72 L322.37 131.72 L323.11 131.72 L323.85 131.72 L324.60 131.72 L325.34 131.72 L326.09 131.72 L326.83 131.71 L327.57 131.71 L328.32 131.71 L329.06 131.71 L329.81 131.71 L330.55 131.71 L331.30 131.71 L332.04 131.71 L332.78 131.71 L333.53 131.71 L334.27 131.71 L335.02 131.70 L335.76 131.70 L336.50 131.70 L337.25 131.70 L337.99 131.70 L338.74 131.70 L339.48 131.70 L340.23 131.70 L340.97 131.70 L341.71 131.70 L342.46 131.70 L343.20 131.70 L343.95 131.70 L344.69 131.70 L345.44 131.69 L346.18 131.69 L346.92 131.69 L347.67 131.69 L348.41 131.69 L349.16 131.69 L349.90 131.69 L350.64 131.69 L351.39 131.69 L352.13 131.69 L352.88 131.69 L353.62 131.69 L354.37 131.69 L355.11 131.69 L355.85 131.69 L356.60 131.69 L357.34 131.69 L358.09 131.69 L358.83 131.69 L359.57 131.69 L360.32 131.69 L361.06 131.69 L361.81 131.69 L362.55 131.69 L363.30 131.68 L364.04 131.68 L364.78 131.68 L365.53 131.68 L366.27 131.68 L367.02 131.68 L367.76 131.68 L368.50 131.68 L369.25 131.68 L369.99 131.68 L370.74 131.68 L371.48 131.68 L372.23 131.68 L372.97 131.68 L373.71 131.68 L374.46 131.68 L375.20 131.68 L375.95 131.68 L376.69 131.68 L377.43 131.68 L378.18 131.68 L378.92 131.68 L379.67 131.68 L380.41 131.68 L381.15 131.68 L381.90 131.68 L382.64 131.68 L383.39 131.68 L384.13 131.68 L384.88 131.68 L385.62 131.68 L386.36 131.68 L387.11 131.68 L387.85 131.68 L388.60 131.68 L389.34 131.68 L390.09 131.68 L390.83 131.68 L391.57 131.68 L392.32 131.68 L393.06 131.68 L393.81 131.68 L394.55 131.68 L395.29 131.68 L396.04 131.68 L396.78 131.68 L397.53 131.68 L398.27 131.68 L399.01 131.68 L399.76 131.68 L400.50 131.68 L401.25 131.68 L401.99 131.68 L402.74 131.68 L403.48 131.68 L404.22 131.68 L404.97 131.68 L405.71 131.68 L406.46 131.68 L407.20 131.68 L407.94 131.68 L408.69 131.68 L409.43 131.68 L410.18 131.68 L410.92 131.68 L411.67 131.68 L412.41 131.68 L413.15 131.68 L413.90 131.68 L414.64 131.68 L415.39 131.68 L416.13 131.68 L416.88 131.68 L417.62 131.68 L418.36 131.68 L419.11 131.68 L419.85 131.68 L420.60 131.68 L421.34 131.68 L422.08 131.68 L422.83 131.68 L423.57 131.68 L424.32 131.68 L425.06 131.68 L425.81 131.68 L426.55 131.68 L427.29 131.68 L428.04 131.68 L428.78 131.68 L429.53 131.68 L430.27 131.68 L431.01 131.68 L431.76 131.68 L432.50 131.68 L433.25 131.68 L433.99 131.68 L434.74 131.68 L435.48 131.68 L436.22 131.68 L436.97 131.68 L437.71 131.68 L438.46 131.68 L439.20 131.68 L439.94 131.68 L440.69 131.68 L441.43 131.68 L442.18 131.68 L442.92 131.68 L443.67 131.68 L444.41 131.68 L445.15 131.68 L445.90 131.68 L446.64 131.68 L447.39 131.68 L448.13 131.68 L448.87 131.68 L449.62 131.68 L450.36 131.68 L451.11 131.68 L451.85 131.68 L452.59 131.68 L453.34 131.68 L454.08 131.68 L454.83 131.68 L455.57 131.68 L456.32 131.68 L457.06 131.68 L457.80 131.68 L458.55 131.68 L459.29 131.68 L460.04 131.68 L460.78 131.68 L461.53 131.68 L462.27 131.68 L463.01 131.68 L463.76 131.68 L464.50 131.68 L465.25 131.68 L465.99 131.68 L466.73 131.68 L467.48 131.68 L468.22 131.68 L468.97 131.68 L469.71 131.68 L470.46 131.68 L471.20 131.68 L471.94 131.68 L472.69 131.68 L473.43 131.68 L474.18 131.68 L474.92 131.68 L475.66 131.68 L476.41 131.68 L477.15 131.68 L477.90 131.68 L478.64 131.68 L479.38 131.68 L480.13 131.68 L480.87 131.68 L481.62 131.68 L482.36 131.68 L483.11 131.68 L483.85 131.68 L484.59 131.68 L485.34 131.68 L486.08 131.68 L486.83 131.68 L487.57 131.68 L488.31 131.68 L489.06 131.68 L489.80 131.68 L490.55 131.68 L491.29 131.68 L492.04 131.68 L492.78 131.68 L493.52 131.68 L494.27 131.68 L495.01 131.68 L495.76 131.68 L496.50 131.68 L497.24 131.68 L497.99 131.68 L498.73 131.68 L499.48 131.68 L500.22 131.68 L500.97 131.68 L501.71 131.68 L502.45 131.68 L503.20 131.68 L503.94 131.68 L504.69 131.68 L505.43 131.68 L506.18 131.68 L506.92 131.68 L507.66 131.68 L508.41 131.68 L509.15 131.68 L509.90 131.68 L510.64 131.68 L511.38 131.68 L512.13 131.68 L512.87 131.68 L513.62 131.68 L514.36 131.68 L515.11 131.68 L515.85 131.68 L516.59 131.68 L517.34 131.68 L518.08 131.68 L518.83 131.68 L519.57 131.68 L520.31 131.68 L521.06 131.68 L521.80 131.68 L522.55 131.68 L523.29 131.68 L524.04 131.68 L524.78 131.68 L525.52 131.68 L526.27 131.68 L527.01 131.68 L527.76 131.68 L528.50 131.68" stroke="#6C4A94"/>
</g>
<g stroke-width="3.2" stroke-linecap="round">
<line x1="605.5" y1="203.60" x2="634.3" y2="203.60" stroke="#3569B4"/>
<text x="637.5" y="207.90" font-size="12.9" stroke="#000" stroke-width="0.25">10 k&#937;</text>
<line x1="605.5" y1="230.27" x2="634.3" y2="230.27" stroke="#BA3431"/>
<text x="637.5" y="234.57" font-size="12.9" stroke="#000" stroke-width="0.25">100 k&#937;</text>
<line x1="605.5" y1="256.94" x2="634.3" y2="256.94" stroke="#8CB040"/>
<text x="637.5" y="261.24" font-size="12.9" stroke="#000" stroke-width="0.25">1 M&#937;</text>
<line x1="605.5" y1="283.61" x2="634.3" y2="283.61" stroke="#6C4A94"/>
<text x="637.5" y="287.91" font-size="12.9" stroke="#000" stroke-width="0.25">10 M&#937;</text>
</g>
<g font-size="12.9">
</g>
<text x="233.5" y="23.4" font-size="22" font-weight="bold" textLength="227" lengthAdjust="spacingAndGlyphs">Amplitude Response</text>
<text transform="translate(39.3,304) rotate(-90)" x="0" y="0" font-size="17.5" font-weight="bold" textLength="181" lengthAdjust="spacingAndGlyphs">Normalized Gain <tspan font-weight="normal">(</tspan>dB<tspan font-weight="normal">)</tspan></text>
<text x="262.7" y="429.8" font-size="17.5"><tspan font-weight="bold">Frequency </tspan><tspan font-size="19">(</tspan><tspan font-weight="bold">Hz</tspan><tspan font-size="12.5">)</tspan></text>
</svg>
</body></html>
